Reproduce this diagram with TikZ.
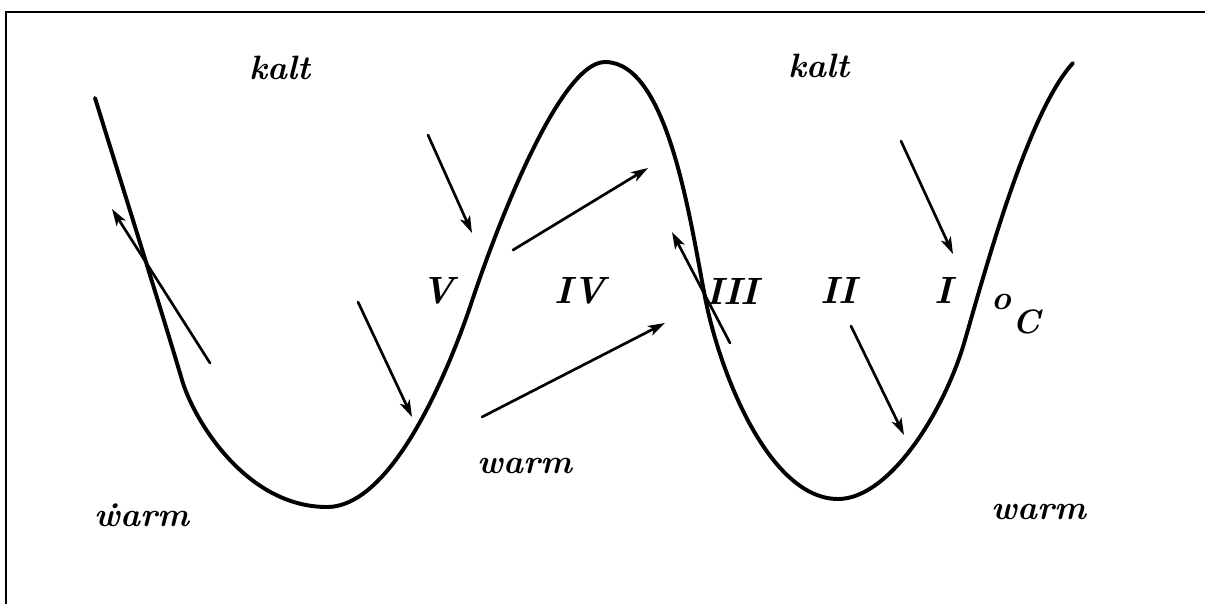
\documentclass[tikz,border=0pt]{standalone}
\usetikzlibrary{arrows.meta}
\begin{document}
\begin{tikzpicture}[x=0.025cm,y=-0.025cm,
  curve/.style={line width=2.8pt, line cap=round, line join=round},
  arr/.style={line width=1.9pt, line cap=round, -{Stealth[length=12pt,width=7.5pt,inset=3pt]}},
  lbl/.style={font=\fontsize{24}{28}\selectfont\bfseries\itshape, inner sep=0pt},
  num/.style={font=\fontsize{27}{30}\selectfont\bfseries\itshape, inner sep=0pt},
  frameline/.style={line width=1.3pt}]
\useasboundingbox (0,0) rectangle (1205,604);
% frame
\coordinate (tl) at (6,12);
\coordinate (tr) at (1205,12);
\coordinate (bl) at (6,604);
\draw[frameline] (tr) -- (tl) -- (bl);
% wave curve
\coordinate (c0) at (95,98);
\coordinate (c0b) at (182,380);
\coordinate (c1) at (327,507);
\coordinate (c2) at (470,307);
\coordinate (c3) at (605,62);
\coordinate (c4) at (705,297);
\coordinate (c5) at (838,499);
\coordinate (c6) at (965,340);
\coordinate (c7) at (1073,63);
\draw[curve] (c0) .. controls (122,185) and (168,332) .. (c0b)
  .. controls (193,418) and (245,507) .. (c1)
  .. controls (395,507) and (452,360) .. (c2)
  .. controls (497,225) and (560,62) .. (c3)
  .. controls (668,62) and (690,220) .. (c4)
  .. controls (720,375) and (770,499) .. (c5)
  .. controls (890,499) and (945,410) .. (c6)
  .. controls (990,253) and (1030,110) .. (c7);
% arrow end points
\coordinate (a1t) at (210,363); \coordinate (a1h) at (112,209);
\coordinate (a2t) at (428,135); \coordinate (a2h) at (472,233);
\coordinate (a3t) at (358,302); \coordinate (a3h) at (412,417);
\coordinate (a4t) at (513,250); \coordinate (a4h) at (648,168);
\coordinate (a5t) at (482,417); \coordinate (a5h) at (665,323);
\coordinate (a6t) at (730,343); \coordinate (a6h) at (672,232);
\coordinate (a7t) at (901,141); \coordinate (a7h) at (953,254);
\coordinate (a8t) at (851,326); \coordinate (a8h) at (904,435);
\draw[arr] (a1t) -- (a1h);
\draw[arr] (a2t) -- (a2h);
\draw[arr] (a3t) -- (a3h);
\draw[arr] (a4t) -- (a4h);
\draw[arr] (a5t) -- (a5h);
\draw[arr] (a6t) -- (a6h);
\draw[arr] (a7t) -- (a7h);
\draw[arr] (a8t) -- (a8h);
% labels
\node[lbl] (k1) at (280,68) {kalt};
\node[lbl] (k2) at (819,66) {kalt};
\node[lbl] (w1) at (142,515) {\.{w}arm};
\node[lbl] (w2) at (525,466) {warm};
\node[lbl] (w3) at (1039,512) {warm};
\node[num] (n5) at (438,291) {V};
\node[num] (n4) at (580,291) {IV};
\node[num] (n3) at (732,291) {III};
\node[num] (n2) at (838,290) {II};
\node[num] (n1) at (943,290) {I};
\node[lbl, anchor=base west] (degc) at (991,333) {\raisebox{17pt}{o}\hspace{0.05em}C};
\end{tikzpicture}
\end{document}
